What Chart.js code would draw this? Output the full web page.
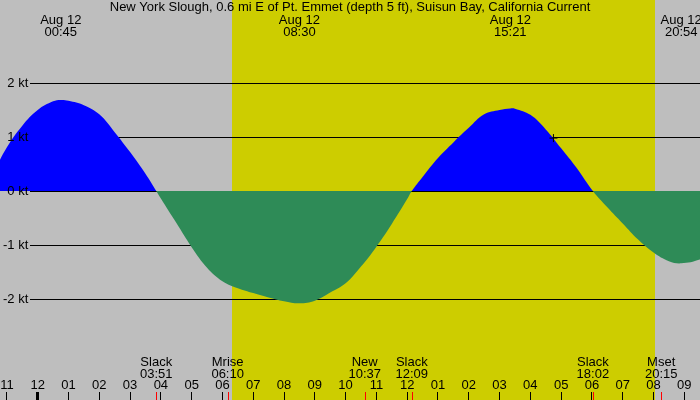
<!DOCTYPE html>
<html>
<head>
<meta charset="utf-8">
<script src="https://cdn.jsdelivr.net/npm/chart.js@4.4.0/dist/chart.umd.min.js"></script>
<style>
  html, body { margin: 0; padding: 0; background: #bebebe; overflow: hidden; }
  canvas { display: block; }
</style>
</head>
<body>
<canvas id="chart_wrap" width="700" height="400"></canvas>
<script>
const titleText = 'New York Slough, 0.6 mi E of Pt. Emmet (depth 5 ft), Suisun Bay, California Current';

// hours after midnight Aug 12, current speed in knots (+ flood / - ebb)
const hours = [-1.5, -1, -0.5, 0, 0.5, 0.75, 1, 1.5, 2, 2.5, 3, 3.5, 3.85,
  4, 4.5, 5, 5.5, 6, 6.5, 7, 7.5, 8, 8.5, 9, 9.5, 10, 10.5, 11, 11.5, 12, 12.15,
  12.5, 13, 13.5, 14, 14.5, 15, 15.35, 15.5, 16, 16.5, 17, 17.5, 18.03,
  18.5, 19, 19.5, 20, 20.5, 20.9, 21.5, 22];
const speeds = [0.27, 0.81, 1.21, 1.50, 1.66, 1.685, 1.67, 1.59, 1.42, 1.09, 0.72, 0.32, 0,
  -0.14, -0.59, -1.04, -1.42, -1.67, -1.80, -1.89, -1.97, -2.04, -2.08, -2.03, -1.88, -1.71, -1.40, -1.03, -0.61, -0.15, 0,
  0.26, 0.61, 0.90, 1.17, 1.42, 1.50, 1.53, 1.525, 1.41, 1.14, 0.79, 0.43, 0,
  -0.30, -0.60, -0.90, -1.14, -1.30, -1.34, -1.27, -1.12];

const hourTicks = [-1, 0, 1, 2, 3, 4, 5, 6, 7, 8, 9, 10, 11, 12, 13, 14, 15, 16, 17, 18, 19, 20, 21];
const hourLabels = ['11', '12', '01', '02', '03', '04', '05', '06', '07', '08', '09', '10',
  '11', '12', '01', '02', '03', '04', '05', '06', '07', '08', '09'];
const knotTicks = [-2, -1, 0, 1, 2];

// max flood / max ebb times shown along the top
const peakDate = 'Aug 12';
const peakTimes = [0.75, 8.5, 15.35, 20.9];
const peakLabels = ['00:45', '08:30', '15:21', '20:54'];

// slack water and moon events along the bottom
const eventTimes = [3.85, 6.17, 10.62, 12.15, 18.03, 20.25];
const eventNames = ['Slack', 'Mrise', 'New', 'Slack', 'Slack', 'Mset'];
const eventLabels = ['03:51', '06:10', '10:37', '12:09', '18:02', '20:15'];

const sunRise = 6.31;
const sunSet = 20.05;

const markTimes = [16.75];
const markSpeeds = [0.98];

const FONT = '13px "Liberation Sans", Arial, sans-serif';

const tidePlugin = {
  id: 'tidePlugin',
  beforeDraw(chart) {
    const ctx = chart.ctx;
    const xs = chart.scales.x;
    ctx.save();
    ctx.fillStyle = '#bebebe';
    ctx.fillRect(0, 0, chart.width, chart.height);
    const x1 = Math.round(xs.getPixelForValue(sunRise));
    const x2 = Math.round(xs.getPixelForValue(sunSet));
    ctx.fillStyle = '#cdcd00';
    ctx.fillRect(x1, 0, x2 - x1, chart.height);
    ctx.restore();
  },
  beforeDatasetsDraw(chart) {
    // knot lines start right of the labels
    const ctx = chart.ctx;
    const ys = chart.scales.y;
    ctx.save();
    ctx.strokeStyle = '#000';
    ctx.lineWidth = 1;
    knotTicks.forEach(v => {
      const y = Math.round(ys.getPixelForValue(v)) + 0.5;
      ctx.beginPath();
      ctx.moveTo(30, y);
      ctx.lineTo(chart.width, y);
      ctx.stroke();
    });
    ctx.restore();
  },
  afterDraw(chart) {
    const ctx = chart.ctx;
    const xs = chart.scales.x;
    ctx.save();
    ctx.font = FONT;
    ctx.fillStyle = '#000';
    ctx.textAlign = 'center';
    ctx.textBaseline = 'alphabetic';
    ctx.fillText(titleText, 350, 11);

    peakTimes.forEach((t, i) => {
      const x = xs.getPixelForValue(t);
      ctx.fillText(peakDate, x, 24);
      ctx.fillText(peakLabels[i], x, 36);
    });

    eventTimes.forEach((t, i) => {
      const x = xs.getPixelForValue(t);
      ctx.fillText(eventNames[i], x, 366);
      ctx.fillText(eventLabels[i], x, 378);
      const px = Math.round(x) + 0.5;
      ctx.strokeStyle = '#ff0000';
      ctx.lineWidth = 1;
      ctx.beginPath();
      ctx.moveTo(px, 392);
      ctx.lineTo(px, 400);
      ctx.stroke();
    });
    ctx.restore();
  }
};

function drawChart() {
  Chart.defaults.font.family = '"Liberation Sans", Arial, sans-serif';
  Chart.defaults.font.size = 13;
  Chart.defaults.color = '#000';

  const ctx = document.getElementById('chart_wrap').getContext('2d');
  window.myChart = new Chart(ctx, {
    type: 'line',
    data: {
      datasets: [
        {
          type: 'scatter',
          data: markTimes.map((t, i) => ({ x: t, y: markSpeeds[i] })),
          pointStyle: 'cross',
          pointRadius: 4,
          borderColor: '#000',
          borderWidth: 1,
          order: 0,
        },
        {
          data: hours.map((h, i) => ({ x: h, y: speeds[i] })),
          borderColor: 'rgba(0,0,0,0)',
          borderWidth: 0,
          pointRadius: 0,
          tension: 0.4,
          fill: { target: 'origin', above: '#0000ff', below: '#2e8b57' },
          order: 1,
        },
      ],
    },
    options: {
      responsive: false,
      animation: false,
      events: [],
      layout: { padding: 0, autoPadding: false },
      plugins: { legend: { display: false }, tooltip: { enabled: false } },
      scales: {
        x: {
          type: 'linear',
          position: 'bottom',
          min: -1.2244,
          max: 21.51,
          afterBuildTicks: s => { s.ticks = hourTicks.map(v => ({ value: v })); },
          afterFit: s => { s.height = 8; s.paddingLeft = 0; s.paddingRight = 0; },
          border: { display: false },
          grid: {
            drawOnChartArea: false,
            drawTicks: true,
            tickLength: 8,
            color: '#000',
            lineWidth: c => (c.tick && c.tick.value === 0 ? 3 : 1),
          },
          ticks: {
            mirror: true,
            padding: -1,
            autoSkip: false,
            maxRotation: 0,
            minRotation: 0,
            color: '#000',
            callback: (v, i) => hourLabels[i],
          },
        },
        y: {
          type: 'linear',
          position: 'left',
          min: -3.722,
          max: 3.537,
          afterBuildTicks: s => { s.ticks = knotTicks.map(v => ({ value: v })); },
          afterFit: s => { s.width = 0; s.paddingTop = 0; s.paddingBottom = 0; },
          border: { display: false },
          grid: { display: false, drawTicks: false },
          ticks: {
            mirror: true,
            crossAlign: 'far',
            padding: 3,
            z: 1,
            color: '#000',
            callback: v => v + ' kt',
          },
        },
      },
    },
    plugins: [tidePlugin],
  });
}

drawChart();
</script>
</body>
</html>
